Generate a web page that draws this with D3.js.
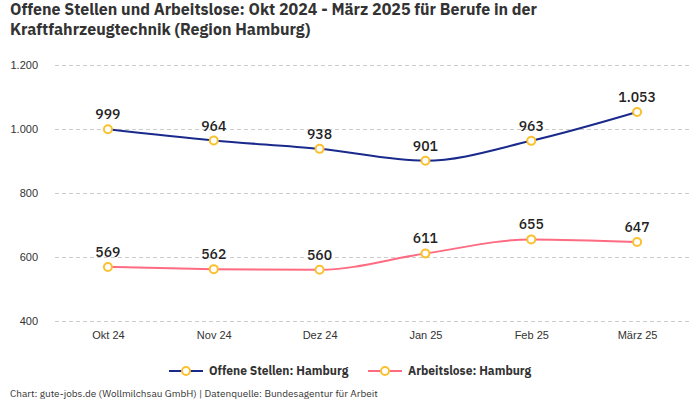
<!DOCTYPE html>
<html>
<head>
<meta charset="utf-8">
<script src="https://cdn.jsdelivr.net/npm/d3@7"></script>
<style>
  body { margin: 0; background: #fff; }
  svg { font-family: "IBM Plex Sans", Roboto, "Noto Sans", sans-serif; }
</style>
</head>
<body>
<div id="chart"></div>
<script>
const months = ["Okt 24", "Nov 24", "Dez 24", "Jan 25", "Feb 25", "März 25"];
const offeneStellen = [999, 964, 938, 901, 963, 1053];
const arbeitslose = [569, 562, 560, 611, 655, 647];
const yTicks = [400, 600, 800, 1000, 1200];
const seriesNames = ["Offene Stellen: Hamburg", "Arbeitslose: Hamburg"];
const seriesColors = ["#1a2a8c", "#ff6b81"];

const width = 700, height = 400;
const margin = { top: 65, right: 10, bottom: 79, left: 55 };

const svg = d3.select("#chart").append("svg")
  .attr("width", width)
  .attr("height", height);

// title
svg.append("text")
  .attr("x", 10).attr("y", 15)
  .style("font-size", "16px").style("font-weight", 700).style("fill", "#333")
  .text("Offene Stellen und Arbeitslose: Okt 2024 - März 2025 für Berufe in der");
svg.append("text")
  .attr("x", 10).attr("y", 35)
  .style("font-size", "16px").style("font-weight", 700).style("fill", "#333")
  .text("Kraftfahrzeugtechnik (Region Hamburg)");

const x = d3.scalePoint()
  .domain(months)
  .range([margin.left, width - margin.right])
  .padding(0.5);

const y = d3.scaleLinear()
  .domain([400, 1200])
  .range([height - margin.bottom, margin.top]);

const fmt = d3.formatLocale({ decimal: ",", thousands: ".", grouping: [3], currency: ["", "€"] }).format(",");

// grid + y axis
const yAxis = svg.append("g")
  .attr("transform", `translate(${margin.left},0)`)
  .call(d3.axisLeft(y).tickValues(yTicks).tickFormat(fmt)
    .tickSize(-(width - margin.left - margin.right)).tickPadding(17));
yAxis.select(".domain").remove();
yAxis.selectAll(".tick line")
  .attr("stroke", "#ccc").attr("stroke-dasharray", "4,3");
yAxis.selectAll(".tick text")
  .style("font-size", "11px").style("fill", "#333");

// x axis
const xAxis = svg.append("g")
  .attr("transform", `translate(0,${height - margin.bottom})`)
  .call(d3.axisBottom(x).tickSize(0).tickPadding(10));
xAxis.select(".domain").remove();
xAxis.selectAll(".tick text")
  .style("font-size", "11px").style("fill", "#333");

const line = d3.line()
  .x((d, i) => x(months[i]))
  .y(d => y(d))
  .curve(d3.curveMonotoneX);

[offeneStellen, arbeitslose].forEach((values, s) => {
  svg.append("path")
    .datum(values)
    .attr("d", line)
    .attr("fill", "none")
    .attr("stroke", seriesColors[s])
    .attr("stroke-width", 2);

  svg.selectAll(".pt" + s)
    .data(values)
    .enter()
    .append("circle")
    .attr("cx", (d, i) => x(months[i]))
    .attr("cy", d => y(d))
    .attr("r", 4)
    .attr("fill", "#fff")
    .attr("stroke", "#fbc02d")
    .attr("stroke-width", 2);

  svg.selectAll(".lbl" + s)
    .data(values)
    .enter()
    .append("text")
    .attr("x", (d, i) => x(months[i]))
    .attr("y", d => y(d) - 10)
    .attr("text-anchor", "middle")
    .style("font-size", "14px")
    .style("font-weight", 500)
    .style("fill", "#222")
    .text(d => fmt(d));
});

// legend
const legendX = [169, 368];
const legend = svg.selectAll(".legend")
  .data(seriesNames)
  .enter()
  .append("g")
  .attr("transform", (d, i) => `translate(${legendX[i]},371)`);
legend.append("line")
  .attr("x1", 0).attr("x2", 34)
  .attr("stroke", (d, i) => seriesColors[i])
  .attr("stroke-width", 2);
legend.append("circle")
  .attr("cx", 17).attr("r", 4)
  .attr("fill", "#fff").attr("stroke", "#fbc02d").attr("stroke-width", 2);
legend.append("text")
  .attr("x", 40).attr("dy", "0.35em")
  .style("font-size", "12px").style("font-weight", 700).style("fill", "#333")
  .text(d => d);

// source
svg.append("text")
  .attr("x", 10).attr("y", 397)
  .style("font-size", "10px").style("fill", "#333")
  .text("Chart: gute-jobs.de (Wollmilchsau GmbH) | Datenquelle: Bundesagentur für Arbeit");
</script>
</body>
</html>
